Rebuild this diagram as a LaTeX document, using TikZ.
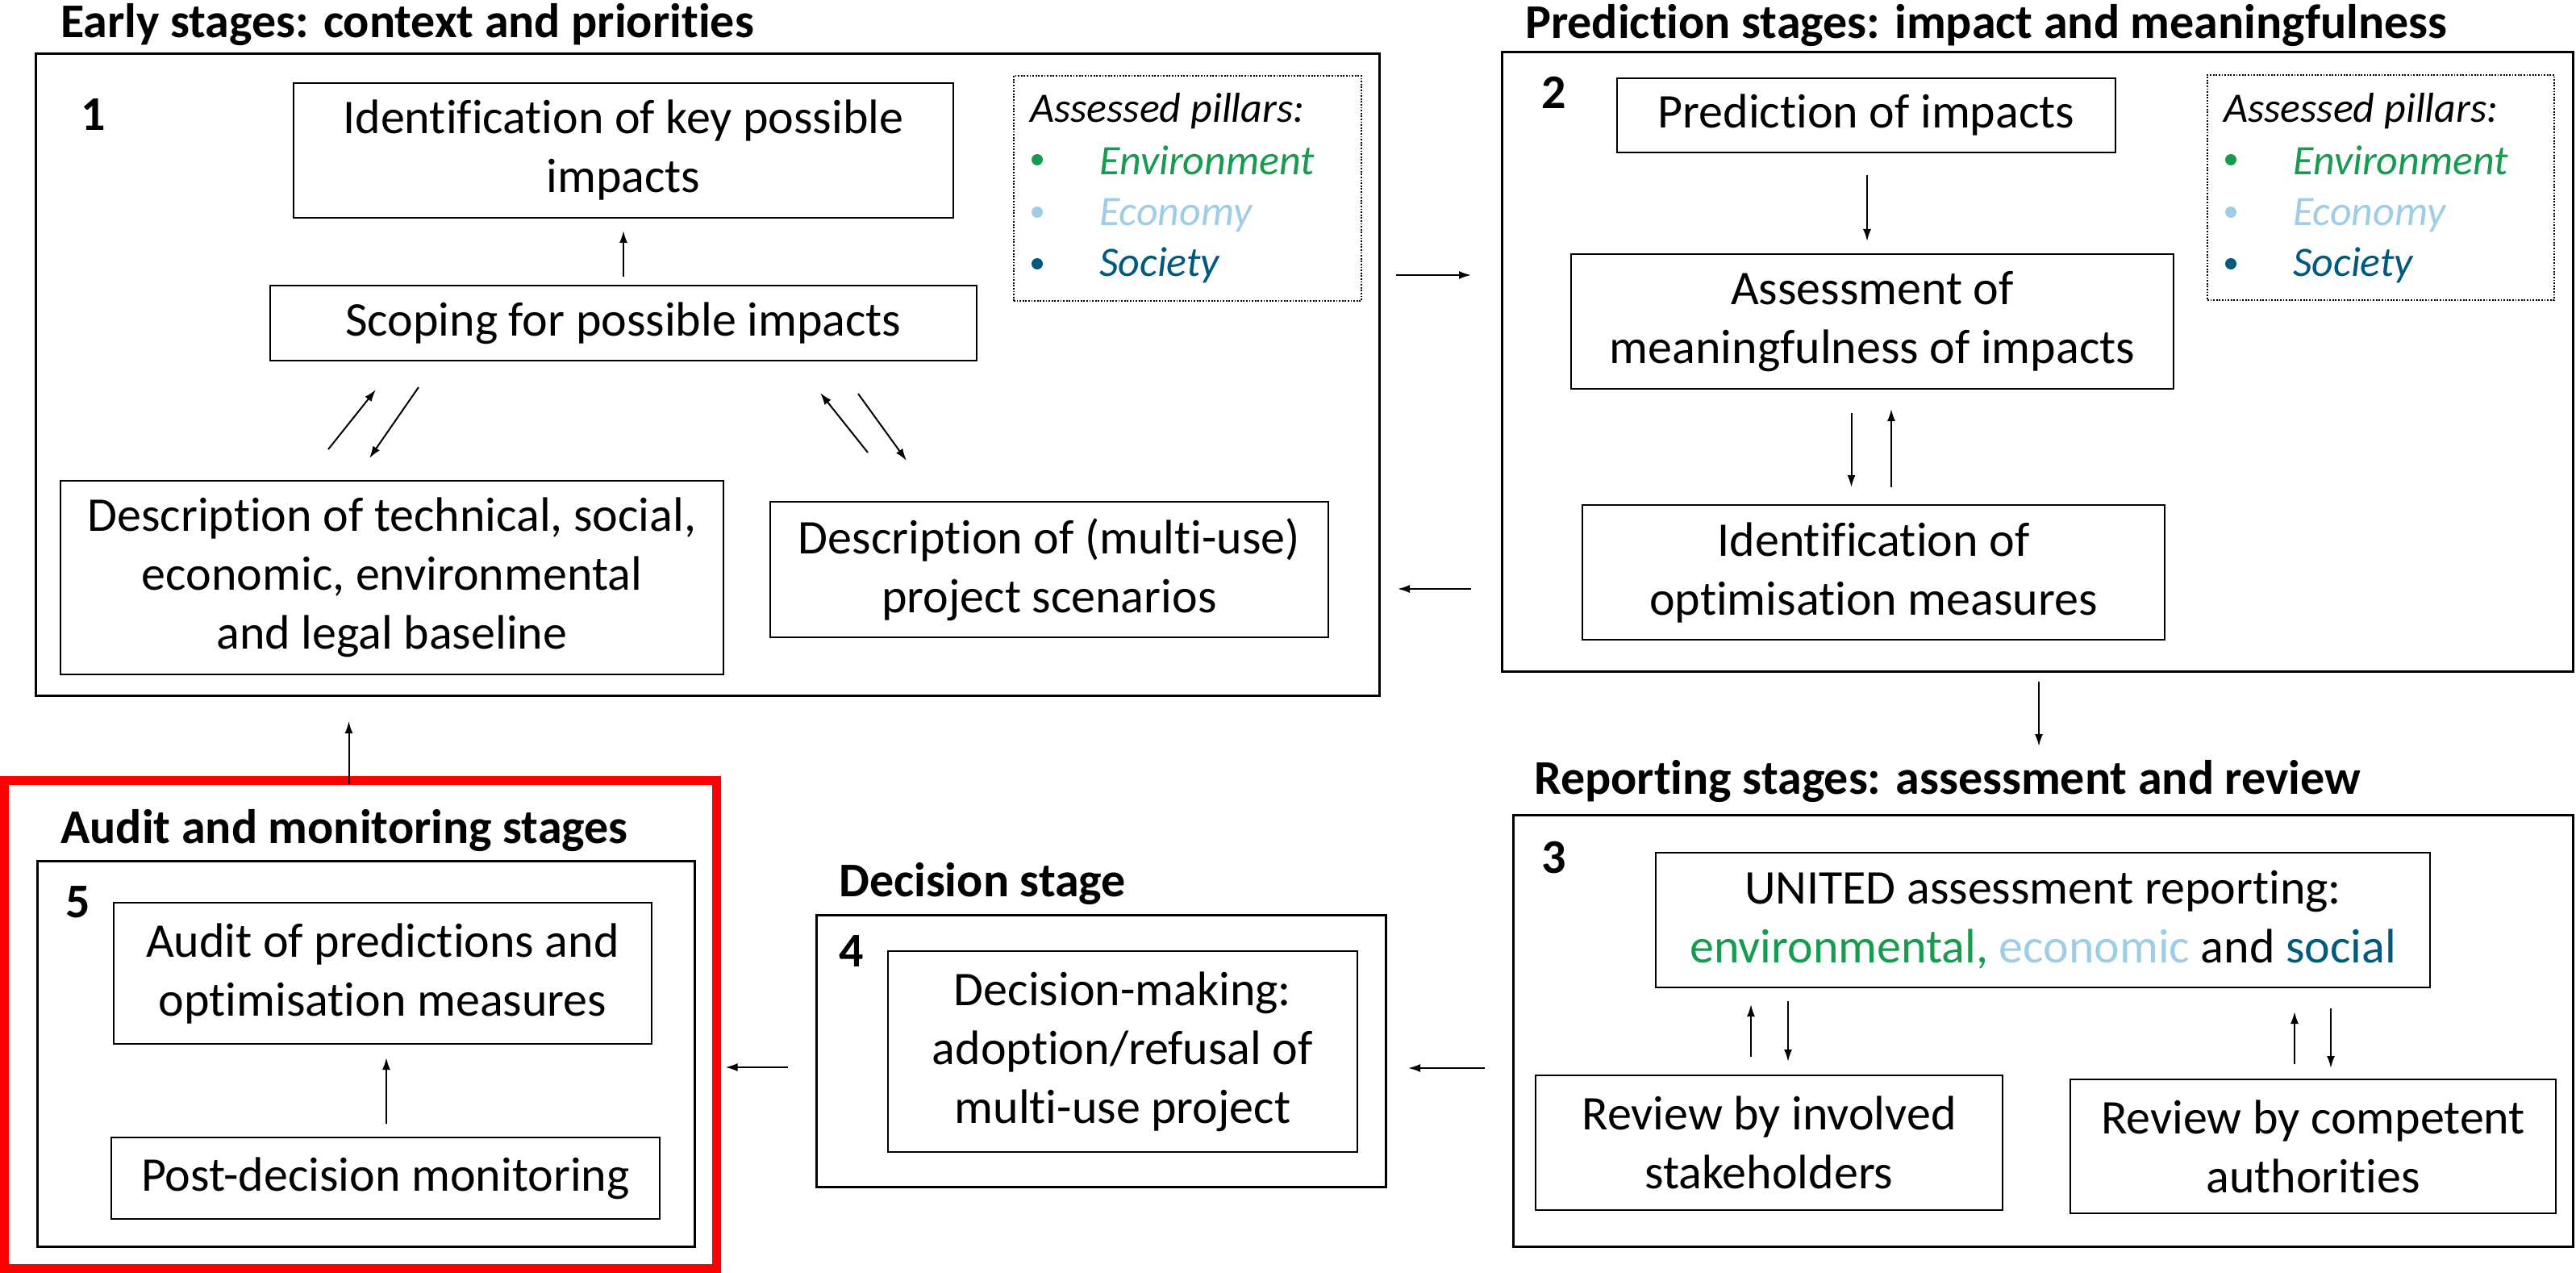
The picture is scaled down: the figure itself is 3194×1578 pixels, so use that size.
\documentclass[tikz,border=0pt]{standalone}
\usepackage{fontspec}
\setmainfont{Carlito}[Ligatures={NoCommon}]
\usetikzlibrary{arrows.meta,calc}
\definecolor{envgreen}{RGB}{22,155,80}
\definecolor{ecoblue}{RGB}{160,205,230}
\definecolor{socteal}{RGB}{0,90,125}
\definecolor{auditred}{RGB}{255,0,0}
\begin{document}
\begin{tikzpicture}[x=1pt,y=-1pt,
  stagebox/.style={draw=black, line width=3pt, inner sep=0pt, outer sep=0pt},
  stepbox/.style={draw=black, line width=2pt, inner sep=0pt, outer sep=0pt, align=center, font=\fontsize{60}{73}\selectfont},
  stagetitle/.style={anchor=base west, inner sep=0pt, font=\fontsize{60}{72}\selectfont\bfseries},
  pillarbox/.style={draw=black, line width=1.8pt, dash pattern=on 1.8pt off 1.8pt, inner sep=0pt},
  pillartext/.style={anchor=base west, inner sep=0pt, font=\fontsize{52}{63}\selectfont\itshape},
  bulletdot/.style={circle, fill=#1, inner sep=0pt, minimum size=14pt},
  arr/.style={-{Latex[length=15pt,width=10pt]}, line width=2pt}
]
\useasboundingbox[fill=white] (0,0) rectangle (3194,1578);

% stage frames
\node[stagebox, minimum width=1666pt, minimum height=795pt] (s1) at (877,464.5) {};
\node[stagebox, minimum width=1328pt, minimum height=767pt] (s2) at (2526,448.5) {};
\node[stagebox, minimum width=1314pt, minimum height=535pt] (s3) at (2533,1277.5) {};
\node[stagebox, minimum width=706pt, minimum height=337pt] (s4) at (1365,1302.5) {};
\node[stagebox, minimum width=815pt, minimum height=478pt] (s5) at (453.5,1306) {};
\node[draw=auditred, line width=11pt, minimum width=883pt, minimum height=605pt, inner sep=0pt] (red) at (446.5,1270) {};

% titles
\node[stagetitle] (t1) at (75,47) {Early stages: context and priorities};
\node[stagetitle] (t2) at (1891,48) {Prediction stages: impact and meaningfulness};
\node[stagetitle] (t3) at (1902,984) {Reporting stages: assessment and review};
\node[stagetitle] (t4) at (1040,1111) {Decision stage};
\node[stagetitle] (t5) at (75,1045) {Audit and monitoring stages};

% numbers
\node[stagetitle] (n1) at (100,162) {1};
\node[stagetitle] (n2) at (1911,135) {2};
\node[stagetitle] (n3) at (1911,1082) {3};
\node[stagetitle] (n4) at (1040,1198) {4};
\node[stagetitle] (n5) at (81,1137) {5};

% stage 1
\node[stepbox, minimum width=818pt, minimum height=167pt] (A) at (773,186.5) {Identification of key possible\\impacts};
\node[stepbox, minimum width=876pt, minimum height=93pt] (B) at (773,400.5) {Scoping for possible impacts};
\node[stepbox, minimum width=822pt, minimum height=240pt] (C) at (486,716) {Description of technical, social,\\economic, environmental\\and legal baseline};
\node[stepbox, minimum width=692pt, minimum height=168pt] (D) at (1301,706) {Description of (multi-use)\\project scenarios};

% stage 2
\node[stepbox, minimum width=618pt, minimum height=92pt] (E) at (2314,143) {Prediction of impacts};
\node[stepbox, minimum width=747pt, minimum height=167pt] (F) at (2321.5,398.5) {Assessment of\\meaningfulness of impacts};
\node[stepbox, minimum width=722pt, minimum height=167pt] (G) at (2323,709.5) {Identification of\\optimisation measures};

% stage 3
\node[stepbox, minimum width=960pt, minimum height=167pt] (H) at (2533,1140.5) {UNITED assessment reporting:\\\textcolor{envgreen}{environmental,} \textcolor{ecoblue}{economic} and \textcolor{socteal}{social}};
\node[stepbox, minimum width=579pt, minimum height=167pt] (I) at (2193.5,1416.5) {Review by involved\\stakeholders};
\node[stepbox, minimum width=602pt, minimum height=166pt] (J) at (2868,1421) {Review by competent\\authorities};

% stage 4
\node[stepbox, minimum width=582pt, minimum height=249pt] (K) at (1392,1303.5) {Decision-making:\\adoption/refusal of\\multi-use project};

% stage 5
\node[stepbox, minimum width=667pt, minimum height=175pt] (L) at (474.5,1206.5) {Audit of predictions and\\optimisation measures};
\node[stepbox, minimum width=680pt, minimum height=101pt] (M) at (478,1460.5) {Post-decision monitoring};

% pillar boxes
\node[pillarbox, minimum width=431pt, minimum height=279pt] (p1) at (1472.5,233.5) {};
\node[pillartext] (p1h) at (1277,152) {Assessed pillars:};
\node[bulletdot=envgreen] (p1b1) at (1286,198) {};
\node[bulletdot=ecoblue] (p1b2) at (1286,263) {};
\node[bulletdot=socteal] (p1b3) at (1286,327) {};
\node[pillartext, text=envgreen] (p1e) at (1363,217) {Environment};
\node[pillartext, text=ecoblue] (p1c) at (1363,280) {Economy};
\node[pillartext, text=socteal] (p1s) at (1363,343) {Society};

\node[pillarbox, minimum width=430pt, minimum height=279pt] (p2) at (2952,232.5) {};
\node[pillartext] (p2h) at (2757,152) {Assessed pillars:};
\node[bulletdot=envgreen] (p2b1) at (2766,198) {};
\node[bulletdot=ecoblue] (p2b2) at (2766,263) {};
\node[bulletdot=socteal] (p2b3) at (2766,327) {};
\node[pillartext, text=envgreen] (p2e) at (2843,217) {Environment};
\node[pillartext, text=ecoblue] (p2c) at (2843,280) {Economy};
\node[pillartext, text=socteal] (p2s) at (2843,343) {Society};

% arrows between stages
\draw[arr] ($(s1.east)+(21,-123.5)$) -- ($(s2.west)+(-38,-107.5)$);
\draw[arr] ($(s2.west)+(-38,281.5)$) -- ($(s1.east)+(23,265.5)$);
\draw[arr] ($(s2.south)+(2,13)$) -- ($(s3.north)+(-5,-85)$);
\draw[arr] ($(s3.west)+(-35,46.5)$) -- ($(s4.east)+(28,21.5)$);
\draw[arr] ($(s4.west)+(-35,20.5)$) -- ($(red.east)+(6,53)$);
\draw[arr] ($(red.north)+(-14,9.5)$) -- ($(s1.south)+(-444.5,32)$);

% stage 1 arrows
\draw[arr] ($(B.north)+(0,-11)$) -- ($(A.south)+(0,16)$);
\draw[arr] ($(C.north)+(-79,-39)$) -- ($(B.south)+(-307,36)$);
\draw[arr] ($(B.south)+(-254,33)$) -- ($(C.north)+(-28,-28)$);
\draw[arr] ($(D.north)+(-225,-61)$) -- ($(B.south)+(244,40)$);
\draw[arr] ($(B.south)+(291,41)$) -- ($(D.north)+(-177,-51)$);

% stage 2 arrows
\draw[arr] ($(E.south)+(1,28)$) -- ($(F.north)+(-6.5,-16)$);
\draw[arr] ($(F.south)+(-26,30)$) -- ($(G.north)+(-27.5,-22)$);
\draw[arr] ($(G.north)+(22,-22)$) -- ($(F.south)+(23.5,25)$);

% stage 3 arrows
\draw[arr] ($(H.south)+(-316,17)$) -- ($(I.north)+(23.5,-17)$);
\draw[arr] ($(I.north)+(-22.5,-23)$) -- ($(H.south)+(-362,21)$);
\draw[arr] ($(H.south)+(357,26)$) -- ($(J.north)+(22,-14)$);
\draw[arr] ($(J.north)+(-23,-19)$) -- ($(H.south)+(312,30)$);

% stage 5 arrow
\draw[arr] ($(M.north)+(1,-17)$) -- ($(L.south)+(4.5,17)$);
\end{tikzpicture}
\end{document}
